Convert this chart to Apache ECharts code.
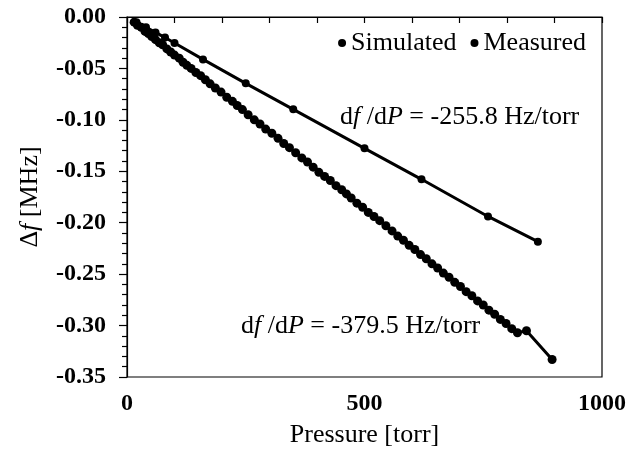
<!DOCTYPE html>
<html>
<head>
<meta charset="utf-8">
<script src="https://cdn.jsdelivr.net/npm/echarts@6/dist/echarts.min.js"></script>
<style>html,body{margin:0;padding:0;background:#fff;}#c{width:631px;height:451px;}</style>
</head>
<body>
<div id="c"></div>
<script>
const simP = [20, 40, 60, 80, 100, 160, 250, 350, 500, 620, 760, 865];
const simF = [-0.005, -0.010, -0.015, -0.020, -0.0253, -0.0412, -0.0645, -0.0898, -0.1277, -0.1578, -0.1939, -0.2184];

const measP = [15, 22, 30, 38, 45, 52, 60, 68, 75, 84, 92, 100, 110, 118, 126, 135, 145, 155, 165, 175,
  186, 198, 210, 222, 232, 243, 255, 268, 280, 292, 305, 318, 330, 342, 355, 368, 380, 392, 404, 416,
  428, 440, 452, 462, 472, 484, 496, 508, 520, 532, 545, 558, 570, 582, 594, 606, 618, 630, 642, 654,
  666, 678, 690, 702, 714, 726, 738, 750, 762, 774, 786, 798, 810, 822, 841, 895];
const measF = [-0.005, -0.008, -0.010, -0.014, -0.016, -0.019, -0.022, -0.025, -0.027, -0.031, -0.034, -0.037, -0.040, -0.044, -0.047, -0.050, -0.054, -0.057, -0.061, -0.065,
  -0.069, -0.073, -0.078, -0.082, -0.086, -0.090, -0.095, -0.100, -0.104, -0.109, -0.113, -0.118, -0.123, -0.127, -0.132, -0.137, -0.141, -0.146, -0.151, -0.155,
  -0.159, -0.164, -0.168, -0.172, -0.176, -0.181, -0.185, -0.190, -0.194, -0.198, -0.203, -0.208, -0.213, -0.217, -0.222, -0.226, -0.231, -0.235, -0.240, -0.244,
  -0.249, -0.253, -0.258, -0.262, -0.267, -0.271, -0.276, -0.280, -0.285, -0.289, -0.294, -0.298, -0.303, -0.307, -0.305, -0.333];

const xTicks = ['0', '500', '1000'];
const seriesNames = ['Simulated', 'Measured'];
const slopeTexts = ['-255.8 Hz/torr', '-379.5 Hz/torr'];

const FONT = '"Liberation Serif", "DejaVu Serif", serif';
const chart = echarts.init(document.getElementById('c'));

const richStyle = {
  r: { fontFamily: FONT, fontSize: 26, fill: '#000', color: '#000' },
  i: { fontFamily: FONT, fontSize: 26, fontStyle: 'italic', fill: '#000', color: '#000' }
};
function slopeLabel(v) { return '{r|d}{i|f}{r| /d}{i|P}{r| = ' + v + '}'; }

chart.setOption({
  animation: false,
  backgroundColor: '#fff',
  grid: { left: 127, top: 17, right: 29, bottom: 74, show: true, borderColor: '#000', borderWidth: 1.2,
    backgroundColor: 'transparent', containLabel: false, outerBoundsMode: 'none' },
  legend: {
    data: seriesNames,
    right: 40, top: 25,
    icon: 'circle', itemWidth: 8, itemHeight: 8, itemGap: 14,
    textStyle: { fontFamily: FONT, fontSize: 26, color: '#000', padding: [0, 0, 0, 0] }
  },
  xAxis: {
    type: 'value', min: 0, max: 1000, interval: 500,
    axisLine: { lineStyle: { color: '#000', width: 1.2 } },
    axisTick: { show: true, length: 6, lineStyle: { color: '#000', width: 1.2 } },
    minorTick: { show: true, splitNumber: 5, length: 6, lineStyle: { color: '#000', width: 1.2 } },
    splitLine: { show: false },
    axisLabel: { fontFamily: FONT, fontSize: 24, fontWeight: 'bold', color: '#000', margin: 15,
      formatter: function (v) { return xTicks[Math.round(v / 500)]; } },
    name: 'Pressure [torr]', nameLocation: 'middle', nameGap: 45,
    nameTextStyle: { fontFamily: FONT, fontSize: 26, color: '#000' }
  },
  yAxis: {
    type: 'value', min: -0.35, max: 0, interval: 0.05,
    axisLine: { lineStyle: { color: '#000', width: 1.2 } },
    axisTick: { show: true, length: 8, lineStyle: { color: '#000', width: 1.2 } },
    minorTick: { show: true, splitNumber: 5, length: 5, lineStyle: { color: '#000', width: 1.2 } },
    splitLine: { show: false },
    axisLabel: { fontFamily: FONT, fontSize: 24, fontWeight: 'bold', color: '#000', margin: 21,
      formatter: function (v) { return v.toFixed(2); } },
    name: '{r|Δ}{i|f}{r| [MHz]}', nameLocation: 'middle', nameGap: 84, nameRotate: 90,
    nameTextStyle: { fontFamily: FONT, fontSize: 26, color: '#000',
      rich: { r: { fontFamily: FONT, fontSize: 26, color: '#000' }, i: { fontFamily: FONT, fontSize: 26, fontStyle: 'italic', color: '#000' } } }
  },
  graphic: [
    { type: 'text', left: 340, top: 104, style: { text: slopeLabel(slopeTexts[0]), rich: richStyle, fill: '#000' } },
    { type: 'text', left: 241, top: 313, style: { text: slopeLabel(slopeTexts[1]), rich: richStyle, fill: '#000' } }
  ],
  series: [
    {
      name: seriesNames[0], type: 'line',
      data: simP.map((p, i) => [p, simF[i]]),
      symbol: 'circle', symbolSize: 8,
      itemStyle: { color: '#000' },
      lineStyle: { color: '#000', width: 3 }
    },
    {
      name: seriesNames[1], type: 'line',
      data: measP.map((p, i) => [p, measF[i]]),
      symbol: 'circle', symbolSize: 9,
      itemStyle: { color: '#000' },
      lineStyle: { color: '#000', width: 3 }
    }
  ]
});
</script>
</body>
</html>
